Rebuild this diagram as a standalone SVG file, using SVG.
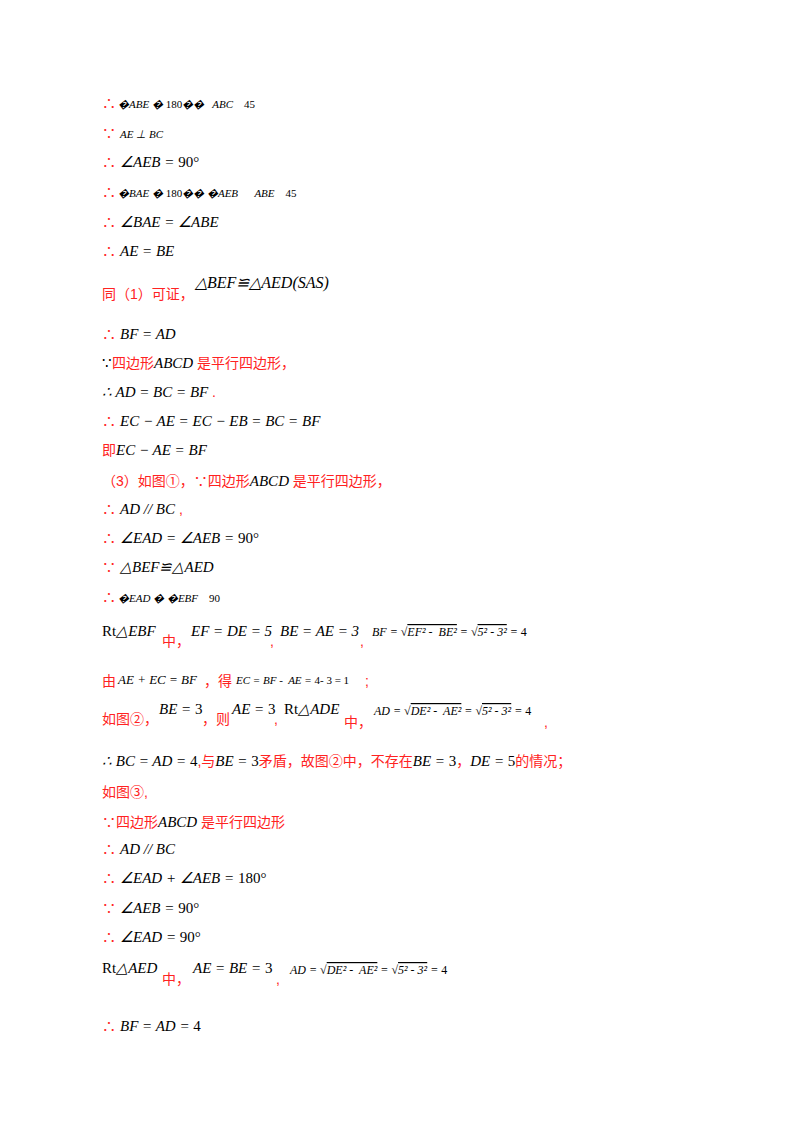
<svg xmlns="http://www.w3.org/2000/svg" width="800" height="1132" viewBox="0 0 800 1132">
<style>
text{white-space:pre}
.m{font-family:"Liberation Serif",serif;font-size:15px;fill:#000;font-style:italic}
.s{font-size:11px}
.q{font-size:12px}
.r{font-family:"Liberation Sans","Noto Sans CJK SC",sans-serif;font-size:14px;fill:#f22}
.u{font-style:normal}
</style>
<rect width="800" height="1132" fill="#fff"/>
<g id="text">
<text x="102" y="108"><tspan class="r">∴</tspan><tspan class="m s" dx="2">�ABE � <tspan class="u">180</tspan>��   ABC    <tspan class="u">45</tspan></tspan></text>
<text x="102" y="138"><tspan class="r">∵</tspan><tspan class="m s" dx="4">AE ⊥ BC</tspan></text>
<text x="102" y="167"><tspan class="r">∴</tspan><tspan class="m" dx="4">∠AEB = <tspan class="u">90°</tspan></tspan></text>
<text x="102" y="197"><tspan class="r">∴</tspan><tspan class="m s" dx="2">�BAE � <tspan class="u">180</tspan>�� �AEB      ABE    <tspan class="u">45</tspan></tspan></text>
<text x="102" y="227"><tspan class="r">∴</tspan><tspan class="m" dx="4">∠BAE = ∠ABE</tspan></text>
<text x="102" y="256"><tspan class="r">∴</tspan><tspan class="m" dx="4">AE = BE</tspan></text>
<text x="102" y="299" class="r">同（1）可证，</text>
<text x="195" y="288" class="m" style="font-size:16px">△BEF≌△AED(SAS)</text>
<text x="102" y="339"><tspan class="r">∴</tspan><tspan class="m" dx="4">BF = AD</tspan></text>
<text x="102" y="368"><tspan class="m u">∵</tspan><tspan class="r">四边形</tspan><tspan class="m">ABCD </tspan><tspan class="r">是平行四边形，</tspan></text>
<text x="102" y="397"><tspan class="m">∴ AD = BC = BF</tspan><tspan class="r"> .</tspan></text>
<text x="102" y="426"><tspan class="r">∴</tspan><tspan class="m" dx="4">EC − AE = EC − EB = BC = BF</tspan></text>
<text x="102" y="455"><tspan class="r">即</tspan><tspan class="m">EC − AE = BF</tspan></text>
<text x="102" y="486"><tspan class="r">（3）如图①，∵四边形</tspan><tspan class="m">ABCD </tspan><tspan class="r">是平行四边形，</tspan></text>
<text x="102" y="514"><tspan class="r">∴</tspan><tspan class="m" dx="4">AD // BC</tspan><tspan class="r"> ,</tspan></text>
<text x="102" y="543"><tspan class="r">∴</tspan><tspan class="m" dx="4">∠EAD = ∠AEB = <tspan class="u">90°</tspan></tspan></text>
<text x="102" y="572"><tspan class="r">∵</tspan><tspan class="m" dx="4">△BEF≌△AED</tspan></text>
<text x="102" y="602"><tspan class="r">∴</tspan><tspan class="m s" dx="2">�EAD � �EBF    <tspan class="u">90</tspan></tspan></text>
<text x="102" y="636" class="m"><tspan class="u">Rt</tspan>△EBF</text>
<text x="162" y="646" class="r">中，</text>
<text x="191" y="636" class="m">EF = DE = 5</text>
<text x="270" y="646" class="r">,</text>
<text x="280" y="636" class="m">BE = AE = 3</text>
<text x="360" y="646" class="r">,</text>
<text x="372" y="636" class="m q">BF = √<tspan style="text-decoration:overline">EF² -  BE²</tspan> = √<tspan style="text-decoration:overline">5² - 3²</tspan> = <tspan class="u">4</tspan></text>
<text x="102" y="686" class="r">由</text>
<text x="118" y="684" class="m" style="font-size:13px">AE + EC = BF</text>
<text x="204" y="686" class="r">，得</text>
<text x="236" y="684" class="m s">EC = BF -  AE = <tspan class="u">4- 3 = 1</tspan></text>
<text x="365" y="686" class="r">;</text>
<text x="102" y="724" class="r">如图②，</text>
<text x="159" y="714" class="m">BE = <tspan class="u">3</tspan></text>
<text x="202" y="724" class="r">，则</text>
<text x="232" y="714" class="m">AE = <tspan class="u">3</tspan></text>
<text x="274" y="724" class="r">,</text>
<text x="284" y="714" class="m"><tspan class="u">Rt</tspan>△ADE</text>
<text x="344" y="727" class="r">中，</text>
<text x="374" y="715" class="m q">AD = √<tspan style="text-decoration:overline">DE² -  AE²</tspan> = √<tspan style="text-decoration:overline">5² - 3²</tspan> = <tspan class="u">4</tspan></text>
<text x="544" y="727" class="r">,</text>
<text x="102" y="766"><tspan class="m">∴ BC = AD = <tspan class="u">4</tspan></tspan><tspan class="r">,与</tspan><tspan class="m">BE = <tspan class="u">3</tspan></tspan><tspan class="r">矛盾，故图②中，不存在</tspan><tspan class="m">BE = <tspan class="u">3</tspan></tspan><tspan class="r">，</tspan><tspan class="m">DE = <tspan class="u">5</tspan></tspan><tspan class="r">的情况；</tspan></text>
<text x="102" y="797" class="r">如图③,</text>
<text x="102" y="827"><tspan class="r">∵四边形</tspan><tspan class="m">ABCD </tspan><tspan class="r">是平行四边形</tspan></text>
<text x="102" y="854"><tspan class="r">∴</tspan><tspan class="m" dx="4">AD // BC</tspan></text>
<text x="102" y="883"><tspan class="r">∴</tspan><tspan class="m" dx="4">∠EAD + ∠AEB = <tspan class="u">180°</tspan></tspan></text>
<text x="102" y="913"><tspan class="r">∵</tspan><tspan class="m" dx="4">∠AEB = <tspan class="u">90°</tspan></tspan></text>
<text x="102" y="942"><tspan class="r">∴</tspan><tspan class="m" dx="4">∠EAD = <tspan class="u">90°</tspan></tspan></text>
<text x="102" y="973" class="m"><tspan class="u">Rt</tspan>△AED</text>
<text x="162" y="984" class="r">中，</text>
<text x="193" y="973" class="m">AE = BE = <tspan class="u">3</tspan></text>
<text x="276" y="984" class="r">,</text>
<text x="290" y="974" class="m q">AD = √<tspan style="text-decoration:overline">DE² -  AE²</tspan> = √<tspan style="text-decoration:overline">5² - 3²</tspan> = <tspan class="u">4</tspan></text>
<text x="102" y="1031"><tspan class="r">∴</tspan><tspan class="m" dx="4">BF = AD = <tspan class="u">4</tspan></tspan></text>
</g>
</svg>
